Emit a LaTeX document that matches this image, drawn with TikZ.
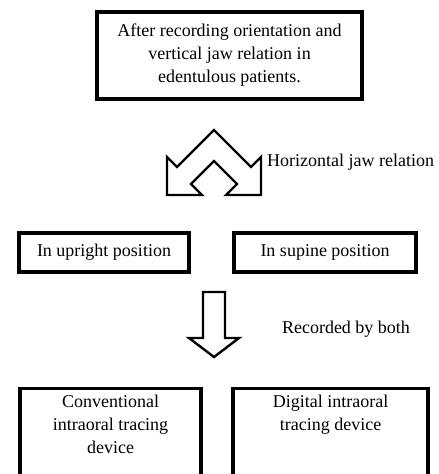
\documentclass[tikz,border=0pt]{standalone}
\usepackage{fontspec}
\setmainfont{Liberation Serif}
\usetikzlibrary{positioning}

\begin{document}
\begin{tikzpicture}[x=1pt,y=-1pt,
  box/.style={draw,line width=3.4pt,align=center,inner sep=0pt,font=\fontsize{18}{23}\selectfont},
  lbl/.style={inner sep=0pt,font=\fontsize{18}{23}\selectfont},
  hollow/.style={draw,line width=2.4pt,fill=white,line join=miter}]
\clip (0,0) rectangle (439,474);
% first step
\node[box,minimum width=265,minimum height=87] (start) at (229.5,55.5) {After recording orientation and\\vertical jaw relation in\\edentulous patients.};
% arrow that splits in two
\coordinate (fork) at (214,130);
\draw[hollow] (fork) -- ++(37,37) -- ++(10,-10) -- ++(0,38) -- ++(-35,0) -- ++(11,-11)
  -- ++(-23,-23) -- ++(-23,23) -- ++(11,11) -- ++(-35,0) -- ++(0,-38) -- ++(10,10) -- cycle;
\node[lbl,anchor=west] (horiz) at (267,162) {Horizontal jaw relation};
% the two positions
\node[box,minimum width=170,minimum height=39] (upright) at (104,252.5) {In upright position};
\node[box,minimum width=182,minimum height=39] (supine) at (325,252.5) {In supine position};
% arrow down
\coordinate (down) at (214,292);
\draw[hollow] (down) ++(-11,0) -- ++(22,0) -- ++(0,46) -- ++(14,0) -- ++(-25,19)
  -- ++(-25,-19) -- ++(14,0) -- cycle;
\node[lbl] (recorded) at (346,329) {Recorded by both};
% devices
\node[box,minimum width=181,minimum height=120,anchor=north] (convbox) at (110.5,387) {};
\node[lbl,align=center,below=8pt of convbox.north] (conv) {Conventional\\intraoral tracing\\device};
\node[box,minimum width=195,minimum height=120,anchor=north] (digibox) at (330.5,387) {};
\node[lbl,align=center,below=8pt of digibox.north] (digi) {Digital intraoral\\tracing device};
\end{tikzpicture}
\end{document}
